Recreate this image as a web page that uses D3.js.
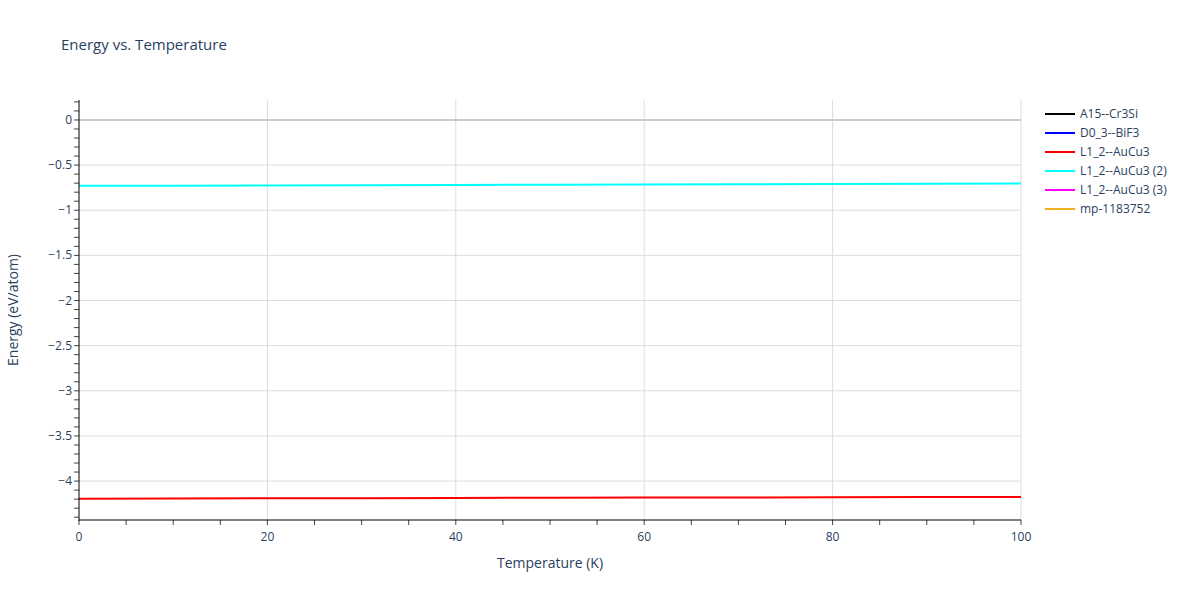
<!DOCTYPE html>
<html><head><meta charset="utf-8">
<script src="https://cdn.jsdelivr.net/npm/d3@7"></script>
<style>body{margin:0;background:#fff;font-family:"Open Sans",sans-serif;}</style>
</head><body><svg id="c" width="1200" height="600"></svg>
<script>
const temps = [0, 10, 20, 30, 40, 50, 60, 70, 80, 90, 100];
const seriesNames = ["A15--Cr3Si","D0_3--BiF3","L1_2--AuCu3","L1_2--AuCu3 (2)","L1_2--AuCu3 (3)","mp-1183752"];
const seriesColors = ["#000000","#0000ff","#ff0000","#00ffff","#ff00ff","#f0b020"];
const redVals = [-4.195,-4.193,-4.191,-4.189,-4.187,-4.185,-4.183,-4.181,-4.179,-4.177,-4.175];
const cyanVals = [-0.730,-0.728,-0.725,-0.723,-0.720,-0.718,-0.715,-0.713,-0.710,-0.708,-0.705];
const seriesValues = [[], [], redVals, cyanVals, [], []];
const xTicks = [0,20,40,60,80,100];
const yTicks = [0,-0.5,-1,-1.5,-2,-2.5,-3,-3.5,-4];

const svg = d3.select("#c");
const L=79,R=1021,T=100,B=520;
const x = d3.scaleLinear().domain([0,100]).range([L,R]);
const y = d3.scaleLinear().domain([-4.431,0.221]).range([B,T]);
const txt="#2a3f5f";

svg.append("text").attr("x",61).attr("y",50).attr("font-size",15).attr("fill",txt).text("Energy vs. Temperature");

const g=svg.append("g");
g.selectAll(".gx").data(xTicks.filter(d=>d>0)).join("line").attr("x1",d=>x(d)).attr("x2",d=>x(d)).attr("y1",T).attr("y2",B).attr("stroke","#dddddd");
g.selectAll(".gy").data(yTicks).join("line").attr("x1",L).attr("x2",R).attr("y1",d=>y(d)).attr("y2",d=>y(d)).attr("stroke",d=>d===0?"#cccccc":"#dddddd").attr("stroke-width",d=>d===0?2:1);

const yMinor=d3.range(-44,3).map(i=>i/10);
g.selectAll(".my").data(yMinor).join("line").attr("x1",L-5).attr("x2",L).attr("y1",d=>y(d)).attr("y2",d=>y(d)).attr("stroke","#444");
const xMinor=d3.range(0,101,5);
g.selectAll(".mx").data(xMinor).join("line").attr("x1",d=>x(d)).attr("x2",d=>x(d)).attr("y1",B).attr("y2",B+5).attr("stroke","#444");

const line=d3.line().x((d,i)=>x(temps[i])).y(d=>y(d));
seriesValues.forEach((v,k)=>{ if(v.length) svg.append("path").attr("d",line(v)).attr("fill","none").attr("stroke",seriesColors[k]).attr("stroke-width",2);});

svg.append("line").attr("x1",L).attr("x2",L).attr("y1",T).attr("y2",B+1).attr("stroke","#000");
svg.append("line").attr("x1",L).attr("x2",R).attr("y1",B).attr("y2",B).attr("stroke","#000");

svg.selectAll(".xl").data(xTicks).join("text").attr("x",d=>x(d)).attr("y",B+21).attr("text-anchor","middle").attr("font-size",12).attr("fill",txt).text(d=>d);
svg.selectAll(".yl").data(yTicks).join("text").attr("x",L-7).attr("y",d=>y(d)+4).attr("text-anchor","end").attr("font-size",12).attr("fill",txt).text(d=>d===0?"0":"−"+Math.abs(d));

svg.append("text").attr("x",550).attr("y",568).attr("text-anchor","middle").attr("font-size",14).attr("fill",txt).text("Temperature (K)");
svg.append("text").attr("transform","translate(18,310) rotate(-90)").attr("text-anchor","middle").attr("font-size",14).attr("fill",txt).text("Energy (eV/atom)");

seriesNames.forEach((n,k)=>{
  const yy=114+k*19;
  svg.append("line").attr("x1",1045).attr("x2",1075).attr("y1",yy).attr("y2",yy).attr("stroke",seriesColors[k]).attr("stroke-width",2);
  svg.append("text").attr("x",1080).attr("y",yy+4).attr("font-size",12).attr("fill",txt).text(n);
});
</script></body></html>
